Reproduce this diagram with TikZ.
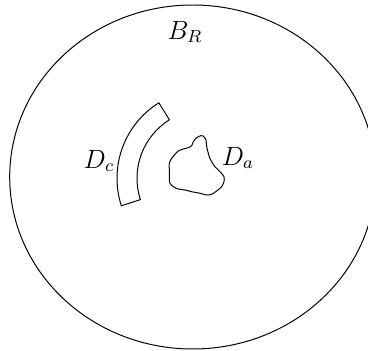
\documentclass[tikz,border=0pt]{standalone}
\usepackage{amsmath,amssymb}
\usepackage{tikz}
\usetikzlibrary{positioning, calc}

\begin{document}
\begin{tikzpicture}[
        x=0.455pt, y=0.455pt,
        region/.style={draw=black, line width=0.45pt},
        lbl/.style={inner sep=1pt, font=\large},
    ]

    % frame (the big ball runs past the right edge)
    \clip (0,0) rectangle (368,351);

    % === BALL B_R ===
    \coordinate (bc) at (192.7,174);
    \draw[region] (bc) ellipse[x radius=183, y radius=172];
    \node[lbl] (br) at (185,319) {$B_R$};

    % === ANNULAR PIECE D_c ===
    \coordinate (cc) at (206,172.7);
    \draw[region] ($(cc)+(122:89)$) arc[start angle=122, end angle=198, radius=89]
        -- ($(cc)+(198:69)$) arc[start angle=198, end angle=122, radius=69] -- cycle;
    \node[lbl] (dc) at (99,190) {$D_c$};

    % === BLOB D_a ===
    \draw[region] plot[smooth cycle, tension=0.45] coordinates {
        (200.7,215.3) (196.7,213.3) (193.3,209.3) (191.7,205.3) (188.3,203.3)
        (183.3,202) (178.3,200) (175,196.7) (171.7,192.7) (169.3,187.7)
        (169.3,181) (169.3,172.7) (170,167.7) (173.3,164.3) (178.3,162)
        (185,161) (191.7,159.3) (200,157.7) (206.7,156) (211.7,156.7)
        (216.7,160) (221.7,164.3) (224,169.3) (224,174.3) (220,179.3)
        (215,184.3) (211.7,189.3) (209.3,194.3) (206.7,204.3) (206,211)
        (203.3,215)};
    \node[lbl] (da) at (238,193) {$D_a$};

\end{tikzpicture}
\end{document}
